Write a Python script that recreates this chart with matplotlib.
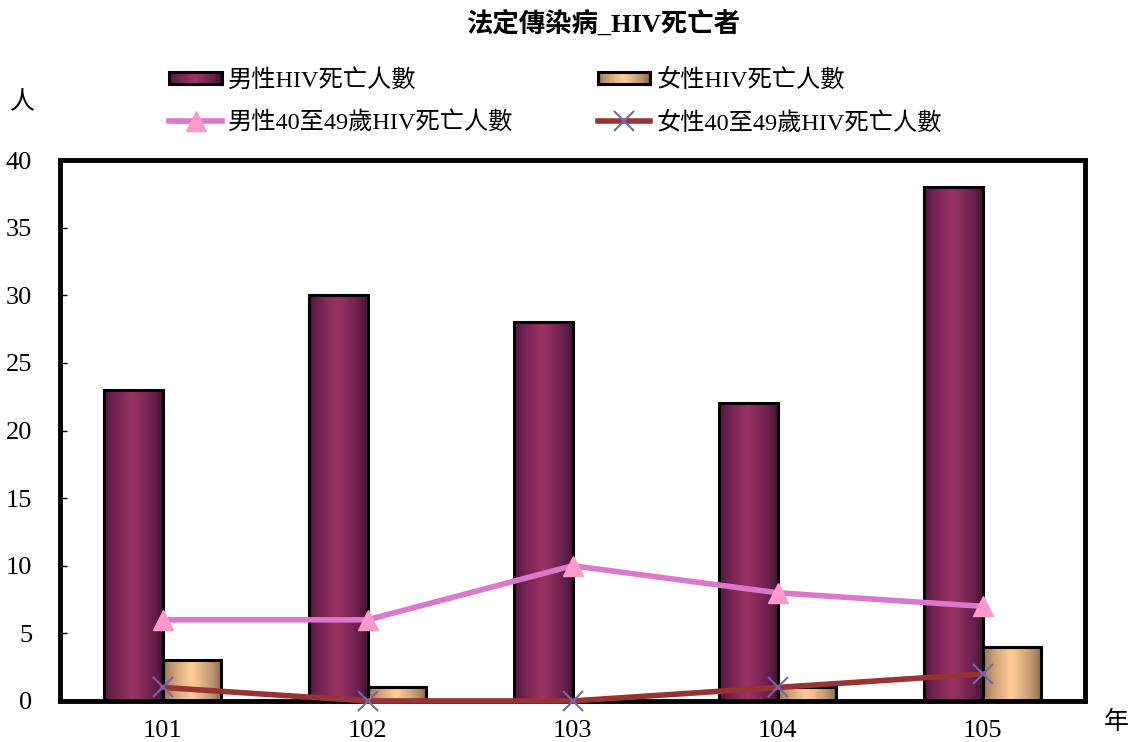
import numpy as np
import matplotlib
matplotlib.use('Agg')
import matplotlib.pyplot as plt
from matplotlib.colors import LinearSegmentedColormap
from matplotlib.patches import Rectangle
from matplotlib.legend_handler import HandlerBase

plt.rcParams['font.family'] = ['Liberation Serif', 'Noto Sans CJK TC', 'DejaVu Sans']

# data
years = ['101', '102', '103', '104', '105']
male_deaths = [23, 30, 28, 22, 38]
female_deaths = [3, 1, 0, 1, 4]
male_40_49 = [6, 6, 10, 8, 7]
female_40_49 = [1, 0, 0, 1, 2]

male_cmap = LinearSegmentedColormap.from_list('m', ['#3e1230', '#6e2250', '#9a3364'])
female_cmap = LinearSegmentedColormap.from_list('f', ['#806246', '#c39a72', '#ffcc99'])


def shade(n=64):
    # bright a bit left of centre, dark at both edges (cylinder look)
    t = np.linspace(0, 1, n)
    return np.clip(1 - np.abs(t - 0.48) / 0.52, 0, 1) ** 0.7


def gradient_bar(ax, x0, w, h, cmap):
    if h <= 0:
        return
    img = shade()[np.newaxis, :]
    ax.imshow(img, cmap=cmap, vmin=0, vmax=1, extent=(x0, x0 + w, 0, h),
              aspect='auto', interpolation='bilinear', zorder=2)
    ax.add_patch(Rectangle((x0, 0), w, h, fill=False, edgecolor='black',
                           linewidth=2.2, zorder=3))


class GradientHandler(HandlerBase):
    def __init__(self, cmap):
        super().__init__()
        self.cmap = cmap

    def create_artists(self, legend, orig_handle, xdescent, ydescent,
                       width, height, fontsize, trans):
        arts = []
        vals = shade(20)
        y0 = -ydescent + height * 0.15
        hh = height * 0.7
        for i, v in enumerate(vals):
            r = Rectangle((-xdescent + width * i / 20, y0), width / 20 + 0.3, hh,
                          facecolor=self.cmap(v), edgecolor='none', transform=trans)
            arts.append(r)
        arts.append(Rectangle((-xdescent, y0), width, hh, fill=False,
                              edgecolor='black', linewidth=2.2, transform=trans))
        return arts


fig = plt.figure(figsize=(11.34, 7.42), dpi=100)
ax = fig.add_axes([0.0529, 0.0553, 0.904, 0.729])

x = np.arange(len(years))
bw = 0.285
for i in range(len(years)):
    gradient_bar(ax, x[i] - bw, bw, male_deaths[i], male_cmap)
    gradient_bar(ax, x[i], bw, female_deaths[i], female_cmap)

l1, = ax.plot(x, male_40_49, color='#dd77cc', linewidth=4, marker='^',
              markersize=14, markerfacecolor='#ff99cc', markeredgecolor='#ff99cc',
              zorder=5, clip_on=False)
l2, = ax.plot(x, female_40_49, color='#993333', linewidth=4, marker='x',
              markersize=14, markeredgecolor='#7766aa', markeredgewidth=1.5,
              zorder=5, clip_on=False)

ax.set_xlim(-0.5, 4.5)
ax.set_ylim(0, 40)
ax.set_yticks(range(0, 41, 5))
ax.set_xticks(x)
ax.set_xticklabels(years)
ax.tick_params(axis='y', direction='in', length=5, width=1, pad=20, labelsize=19)
ax.tick_params(axis='x', length=0, pad=14, labelsize=19)
for s in ax.spines.values():
    s.set_linewidth(3.5)

fig.text(0.532, 0.968, '法定傳染病_HIV死亡者', ha='center', va='center',
         fontsize=19, fontweight='bold')
fig.text(0.02, 0.861, '人', ha='center', va='center', fontsize=18)
fig.text(0.984, 0.027, '年', ha='center', va='center', fontsize=18)

h_male = Rectangle((0, 0), 1, 1)
h_female = Rectangle((0, 0), 1, 1)
leg = fig.legend([h_male, l1, h_female, l2],
                 ['男性HIV死亡人數', '男性40至49歲HIV死亡人數',
                  '女性HIV死亡人數', '女性40至49歲HIV死亡人數'],
                 handler_map={h_male: GradientHandler(male_cmap),
                              h_female: GradientHandler(female_cmap)},
                 ncol=2, loc='center', bbox_to_anchor=(0.49, 0.863),
                 frameon=False, fontsize=17.5, handlelength=2.15, handletextpad=0.25,
                 columnspacing=3.5, labelspacing=0.8)

fig.savefig('out.png', dpi=100)
